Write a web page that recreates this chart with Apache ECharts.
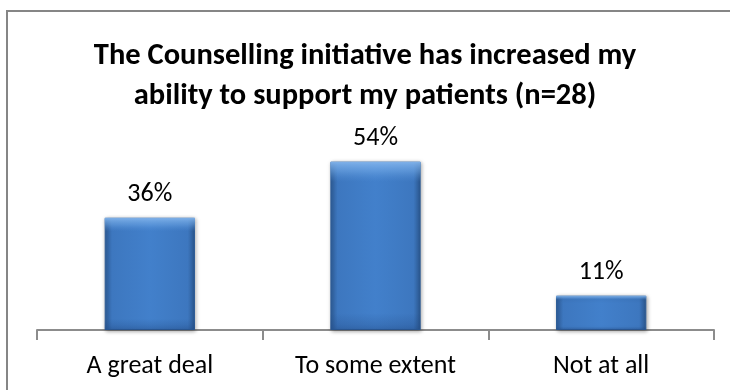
<!DOCTYPE html>
<html>
<head>
<meta charset="utf-8">
<script src="https://cdn.jsdelivr.net/npm/echarts@6/dist/echarts.min.js"></script>
<style>
  html, body { margin: 0; padding: 0; background: #fff; }
  #chart { width: 730px; height: 390px; }
</style>
</head>
<body>
<div id="chart"></div>
<script>
// Survey responses (share of respondents, %)
const categories = ['A great deal', 'To some extent', 'Not at all'];
const shares = [36, 54, 11];
const titleLines = ['The Counselling initiative has increased my', 'ability to support my patients (n=28)'];

const FONT = 'Carlito, Lato, "Open Sans", sans-serif';

const chart = echarts.init(document.getElementById('chart'), null, { renderer: 'canvas' });

chart.setOption({
  animation: false,
  title: {
    text: titleLines.join('\n'),
    left: 'center',
    top: 31,
    textStyle: { fontFamily: FONT, fontWeight: 'bold', fontSize: 30.5, lineHeight: 40, color: '#000' }
  },
  graphic: [{
    type: 'rect',
    shape: { x: 7, y: 11, width: 740, height: 400 },
    style: { fill: 'none', stroke: '#868686', lineWidth: 2 },
    silent: true
  }],
  grid: { left: 37, right: 16, top: 143, bottom: 60 },
  xAxis: {
    type: 'category',
    data: categories,
    axisLine: { show: true, lineStyle: { color: '#8c8c8c', width: 2 } },
    axisTick: { show: true, length: 10, lineStyle: { color: '#8c8c8c', width: 2 } },
    axisLabel: { fontFamily: FONT, fontSize: 26, color: '#000', margin: 23 }
  },
  yAxis: {
    type: 'value',
    min: 0,
    max: 60,
    show: false
  },
  series: [
    {
      type: 'bar',
      data: shares,
      barWidth: '40%',
      itemStyle: {
        color: new echarts.graphic.LinearGradient(0, 0, 1, 0, [
          { offset: 0, color: '#2f5f9c' },
          { offset: 0.08, color: '#3d77bf' },
          { offset: 0.5, color: '#4280cb' },
          { offset: 0.92, color: '#3d77bf' },
          { offset: 1, color: '#2b5890' }
        ]),
        borderColor: '#2d5c96',
        borderWidth: 1,
        shadowColor: 'rgba(0,0,0,0.35)',
        shadowBlur: 4,
        shadowOffsetX: 1,
        shadowOffsetY: 1
      },
      label: {
        show: true,
        position: 'top',
        distance: 10,
        formatter: '{c}%',
        fontFamily: FONT,
        fontSize: 26,
        color: '#000'
      }
    },
    {
      // bevel highlight on the top edge of each bar
      type: 'bar',
      data: shares,
      barWidth: '40%',
      barGap: '-100%',
      silent: true,
      itemStyle: {
        color: new echarts.graphic.LinearGradient(0, 0, 0, 1, [
          { offset: 0, color: 'rgba(140,190,245,0.85)' },
          { offset: 0.06, color: 'rgba(120,175,235,0.45)' },
          { offset: 0.12, color: 'rgba(90,150,220,0.0)' },
          { offset: 0.9, color: 'rgba(30,70,130,0.0)' },
          { offset: 1, color: 'rgba(30,70,130,0.35)' }
        ])
      }
    }
  ]
});
</script>
</body>
</html>
